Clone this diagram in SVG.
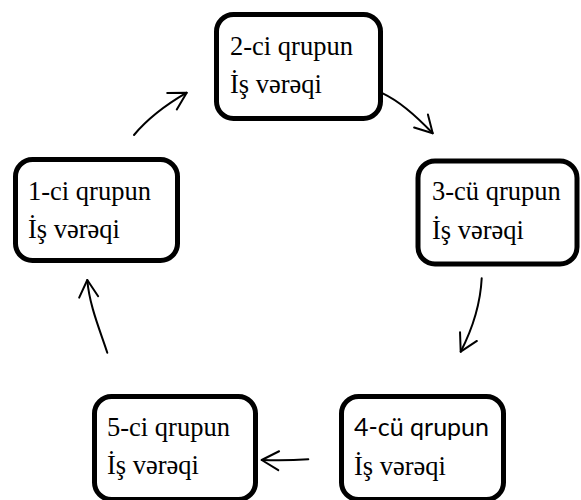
<svg xmlns="http://www.w3.org/2000/svg" width="581" height="500" viewBox="0 0 581 500">
  <style>
    .box { fill: #ffffff; stroke: #000000; stroke-width: 5; }
    .t { font-family: "Liberation Serif", "Times New Roman", serif; font-size: 26.5px; fill: #000000; }
    .s { font-family: Lato, "Liberation Sans", sans-serif; font-size: 25px; fill: #000000; }
    .conn { fill: none; stroke: #000000; stroke-width: 2; stroke-linecap: round; }
  </style>
  <defs>
    <marker id="arrow" markerUnits="userSpaceOnUse" viewBox="-20 -12 23 24" refX="0" refY="0" markerWidth="23" markerHeight="24" orient="auto" overflow="visible">
      <path d="M-17,-9.5 L0,0 L-17,9.5" fill="none" stroke="#000000" stroke-width="2" stroke-linecap="round" stroke-linejoin="round"/>
    </marker>
  </defs>
  <rect width="581" height="500" fill="#ffffff"/>

  <g id="connectors">
    <path class="conn" d="M134,135 Q153,112.3 186.7,92.7" marker-end="url(#arrow)"/>
    <path class="conn" d="M382.7,93.3 Q404.5,103.5 432.7,133.3" marker-end="url(#arrow)"/>
    <path class="conn" d="M481.7,278.3 Q479.9,314.4 460.7,351.7" marker-end="url(#arrow)"/>
    <path class="conn" d="M308.3,459.3 Q285,461 261.7,460" marker-end="url(#arrow)"/>
    <path class="conn" d="M107.3,352.7 C99.5,329 89.3,305 87.3,280" marker-end="url(#arrow)"/>
  </g>

  <g id="node1">
    <rect class="box" x="15.5" y="159.5" width="162" height="101" rx="17" ry="17"/>
    <text class="t" x="28" y="200">1-ci qrupun</text>
    <text class="t" x="28" y="238">İş vərəqi</text>
  </g>
  <g id="node2">
    <rect class="box" x="216.5" y="14.5" width="164" height="104" rx="17" ry="17"/>
    <text class="t" x="230" y="55">2-ci qrupun</text>
    <text class="t" x="230" y="93">İş vərəqi</text>
  </g>
  <g id="node3">
    <rect class="box" x="418" y="161" width="159" height="103" rx="17" ry="17"/>
    <text class="t" x="432" y="200">3-cü qrupun</text>
    <text class="t" x="432" y="239">İş vərəqi</text>
  </g>
  <g id="node4">
    <rect class="box" x="341.5" y="396.5" width="162" height="103" rx="17" ry="17"/>
    <text class="s" x="354" y="436">4-cü qrupun</text>
    <text class="t" x="354" y="475">İş vərəqi</text>
  </g>
  <g id="node5">
    <rect class="box" x="94.5" y="396.5" width="161" height="103" rx="17" ry="17"/>
    <text class="t" x="107" y="436">5-ci qrupun</text>
    <text class="t" x="107" y="474">İş vərəqi</text>
  </g>
</svg>
